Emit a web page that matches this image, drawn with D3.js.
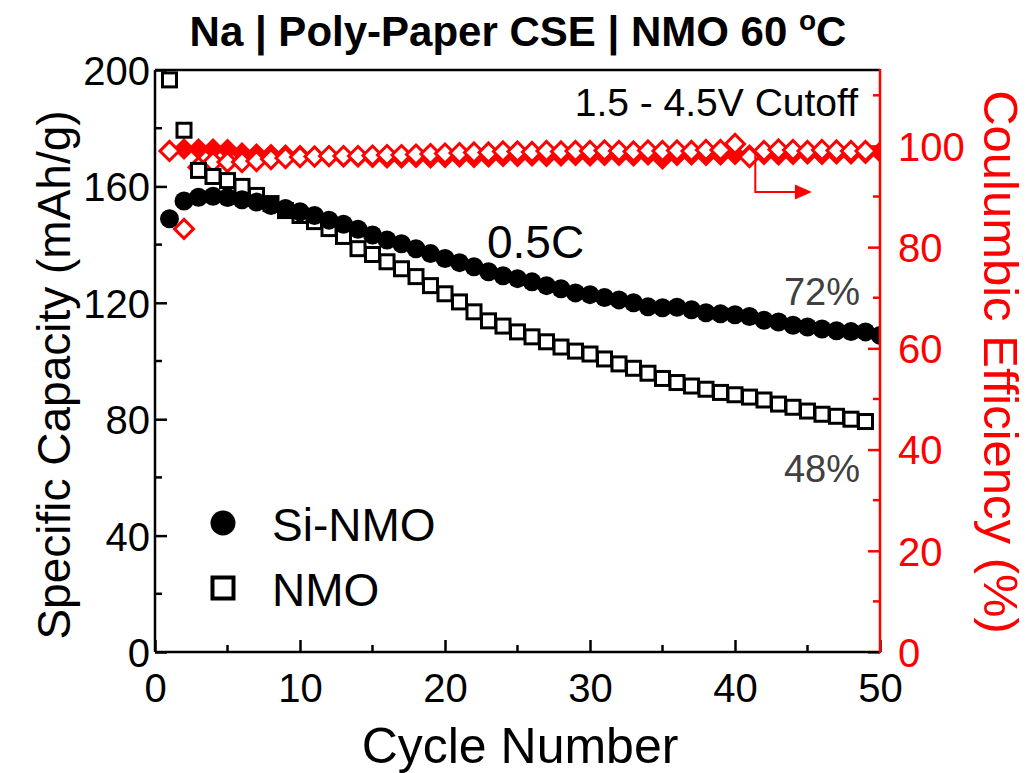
<!DOCTYPE html>
<html>
<head>
<meta charset="utf-8">
<script src="https://cdn.jsdelivr.net/npm/d3@7"></script>
<style>
  html, body { margin: 0; padding: 0; background: #fff; }
  svg { display: block; }
  text { font-family: "Liberation Sans", Arial, sans-serif; }
</style>
</head>
<body>
<svg id="chart" width="1031" height="773"></svg>
<script>
// Cycling data: Na | Poly-Paper CSE | NMO at 60 °C, 0.5C, 1.5-4.5 V
const siNmoCycles = d3.range(1, 51);
const siNmoCapacity = [
  148.9, 155.0, 156.3, 156.6, 156.2, 155.4, 154.6, 153.4, 152.4, 151.3,
  150.0, 148.4, 147.0, 145.3, 143.3, 141.6, 140.3, 138.6, 136.9, 135.2,
  133.8, 132.4, 130.7, 129.3, 128.3, 127.2, 125.9, 124.8, 123.4, 122.8,
  121.8, 121.0, 120.0, 118.6, 118.3, 118.5, 117.6, 116.6, 116.2, 115.9,
  115.3, 114.0, 113.4, 112.3, 111.7, 111.0, 110.4, 110.1, 110.0, 108.8
];
const siNmoEfficiency = [
  99.0, 99.4, 99.4, 99.4, 99.3, 98.6, 98.4, 98.3, 98.2, 98.1,
  98.0, 97.9, 97.8, 97.8, 97.7, 97.6, 97.6, 97.7, 97.6, 97.7,
  97.8, 97.7, 97.8, 97.9, 97.9, 98.0, 97.9, 98.0, 98.1, 98.0,
  98.1, 98.1, 98.0, 98.2, 97.4, 98.1, 98.2, 98.1, 98.2, 98.3,
  98.2, 98.3, 98.2, 98.3, 98.4, 98.3, 98.4, 98.4, 98.5, 98.8
];

const nmoCycles = d3.range(1, 50);
const nmoCapacity = [
  196.6, 179.3, 165.5, 163.4, 162.0, 160.0, 156.9, 154.1, 151.7, 150.0,
  147.9, 145.5, 142.8, 138.6, 136.6, 134.1, 131.7, 129.0, 125.9, 123.1,
  120.3, 116.9, 113.8, 112.0, 110.0, 108.3, 106.6, 104.8, 103.4, 102.4,
  100.7, 99.0, 97.5, 95.8, 94.0, 92.6, 91.4, 90.3, 89.2, 88.4,
  87.6, 86.6, 85.2, 84.1, 82.8, 81.7, 81.0, 80.0, 79.2
];
const nmoEfficiency = [
  99.0, 83.6, 95.8, 96.8, 96.8, 96.8, 97.0, 97.4, 97.6, 97.8,
  97.9, 98.0, 98.0, 98.0, 98.1, 98.2, 98.2, 98.3, 98.4, 98.5,
  98.6, 98.7, 98.7, 98.9, 98.9, 98.8, 99.0, 98.9, 99.0, 99.0,
  99.1, 99.0, 98.9, 99.1, 99.0, 99.1, 99.0, 99.2, 99.2, 100.4,
  97.8, 99.0, 99.3, 99.2, 99.0, 99.2, 99.1, 99.0, 99.0
];

const xTicks = [0, 10, 20, 30, 40, 50];
const capacityTicks = [0, 40, 80, 120, 160, 200];
const efficiencyTicks = [0, 20, 40, 60, 80, 100];

const RED = "#ff0000";
const svg = d3.select("#chart");
const plotLeft = 155, plotRight = 880, plotTop = 70, plotBottom = 652;

const x = d3.scaleLinear().domain([0, 50]).range([plotLeft, plotRight]);
const yCap = d3.scaleLinear().domain([0, 200]).range([plotBottom, plotTop]);
const yCE = d3.scaleLinear().domain([0, 115]).range([plotBottom, plotTop]);

const tickFont = 40;
const FONT = "Liberation Sans, Arial, sans-serif";

svg.append("defs").append("clipPath").attr("id", "plot-clip")
  .append("rect").attr("x", plotLeft).attr("y", plotTop)
  .attr("width", plotRight - plotLeft).attr("height", plotBottom - plotTop);

// Bottom axis (ticks pointing inward)
const xAxis = d3.axisBottom(x).tickValues(xTicks).tickSize(-12).tickPadding(22).tickFormat(d3.format("d"));
const gx = svg.append("g").attr("transform", `translate(0,${plotBottom})`).call(xAxis);
gx.selectAll("text").attr("font-size", tickFont).attr("fill", "#000").attr("dy", "0.71em")
  .attr("font-family", FONT);
gx.selectAll("line").attr("stroke", "#000").attr("stroke-width", 2.5);
gx.select(".domain").remove();
svg.append("g").selectAll("line").data(d3.range(5, 50, 10)).join("line")
  .attr("x1", d => x(d)).attr("x2", d => x(d))
  .attr("y1", plotBottom).attr("y2", plotBottom - 7)
  .attr("stroke", "#000").attr("stroke-width", 2.5);

// Left capacity axis
const yAxisL = d3.axisLeft(yCap).tickValues(capacityTicks).tickSize(-12).tickPadding(5);
const gyl = svg.append("g").attr("transform", `translate(${plotLeft},0)`).call(yAxisL);
gyl.selectAll("text").attr("font-size", tickFont).attr("fill", "#000").attr("dy", "0.36em")
  .attr("font-family", FONT);
gyl.selectAll("line").attr("stroke", "#000").attr("stroke-width", 2.5);
gyl.select(".domain").remove();
svg.append("g").selectAll("line").data(d3.range(20, 200, 40)).join("line")
  .attr("x1", plotLeft).attr("x2", plotLeft + 7)
  .attr("y1", d => yCap(d)).attr("y2", d => yCap(d))
  .attr("stroke", "#000").attr("stroke-width", 2.5);

// Right efficiency axis
const yAxisR = d3.axisRight(yCE).tickValues(efficiencyTicks).tickSize(-12).tickPadding(18);
const gyr = svg.append("g").attr("transform", `translate(${plotRight},0)`).call(yAxisR);
gyr.selectAll("text").attr("font-size", tickFont).attr("fill", RED).attr("dy", "0.36em")
  .attr("font-family", FONT);
gyr.selectAll("line").attr("stroke", RED).attr("stroke-width", 2.5);
gyr.select(".domain").remove();
svg.append("g").selectAll("line").data(d3.range(10, 115, 20)).join("line")
  .attr("x1", plotRight).attr("x2", plotRight - 7)
  .attr("y1", d => yCE(d)).attr("y2", d => yCE(d))
  .attr("stroke", RED).attr("stroke-width", 2.5);

const plot = svg.append("g").attr("clip-path", "url(#plot-clip)");

// Coulombic efficiency, Si-NMO (filled diamonds)
const diamond = s => `M0,${-s}L${s},0L0,${s}L${-s},0Z`;
plot.append("g").selectAll("path")
  .data(siNmoCycles.map((c, i) => [c, siNmoEfficiency[i]])).join("path")
  .attr("d", diamond(11))
  .attr("transform", d => `translate(${x(d[0])},${yCE(d[1])})`)
  .attr("fill", RED);

// Coulombic efficiency, NMO (open diamonds)
plot.append("g").selectAll("path")
  .data(nmoCycles.map((c, i) => [c, nmoEfficiency[i]])).join("path")
  .attr("d", diamond(9.5))
  .attr("transform", d => `translate(${x(d[0])},${yCE(d[1])})`)
  .attr("fill", "#fff").attr("stroke", RED).attr("stroke-width", 3);

// Capacity, NMO (open squares)
const sq = 14;
plot.append("g").selectAll("rect")
  .data(nmoCycles.map((c, i) => [c, nmoCapacity[i]])).join("rect")
  .attr("x", d => x(d[0]) - sq / 2).attr("y", d => yCap(d[1]) - sq / 2)
  .attr("width", sq).attr("height", sq)
  .attr("fill", "#fff").attr("stroke", "#000").attr("stroke-width", 3);

// Capacity, Si-NMO (filled circles)
plot.append("g").selectAll("circle")
  .data(siNmoCycles.map((c, i) => [c, siNmoCapacity[i]])).join("circle")
  .attr("cx", d => x(d[0])).attr("cy", d => yCap(d[1])).attr("r", 9.5)
  .attr("fill", "#000");

// Frame
svg.append("line").attr("x1", plotLeft).attr("x2", plotRight).attr("y1", plotTop).attr("y2", plotTop)
  .attr("stroke", "#000").attr("stroke-width", 2.5);
svg.append("line").attr("x1", plotLeft).attr("x2", plotRight).attr("y1", plotBottom).attr("y2", plotBottom)
  .attr("stroke", "#000").attr("stroke-width", 2.5);
svg.append("line").attr("x1", plotLeft).attr("x2", plotLeft).attr("y1", plotTop).attr("y2", plotBottom)
  .attr("stroke", "#000").attr("stroke-width", 2.5);
svg.append("line").attr("x1", plotRight).attr("x2", plotRight).attr("y1", plotTop - 1).attr("y2", plotBottom + 1)
  .attr("stroke", RED).attr("stroke-width", 2.5);

// Arrow pointing to the efficiency axis
const arrowX = x(41.4), arrowTop = yCE(98.6), arrowY = yCE(90.9), arrowEnd = x(45.3);
svg.append("path")
  .attr("d", `M${arrowX},${arrowTop}V${arrowY}H${arrowEnd - 16}`)
  .attr("fill", "none").attr("stroke", RED).attr("stroke-width", 2);
svg.append("path")
  .attr("d", `M${arrowEnd - 17},${arrowY - 7.5}L${arrowEnd},${arrowY}L${arrowEnd - 17},${arrowY + 7.5}Z`)
  .attr("fill", RED);

// Annotations
svg.append("text").attr("x", 858).attr("y", 116).attr("text-anchor", "end")
  .attr("font-size", 39).text("1.5 - 4.5V Cutoff");
svg.append("text").attr("x", 487).attr("y", 258).attr("font-size", 46).text("0.5C");
svg.append("text").attr("x", 860).attr("y", 305).attr("text-anchor", "end")
  .attr("font-size", 38).attr("fill", "#404040").text("72%");
svg.append("text").attr("x", 860).attr("y", 482).attr("text-anchor", "end")
  .attr("font-size", 38).attr("fill", "#404040").text("48%");

// Legend
svg.append("circle").attr("cx", 223).attr("cy", 523).attr("r", 12.5).attr("fill", "#000");
svg.append("rect").attr("x", 223 - 10.5).attr("y", 588 - 10.5).attr("width", 21).attr("height", 21)
  .attr("fill", "#fff").attr("stroke", "#000").attr("stroke-width", 4);
svg.append("text").attr("x", 272).attr("y", 541).attr("font-size", 46).text("Si-NMO");
svg.append("text").attr("x", 272).attr("y", 606).attr("font-size", 46).text("NMO");

// Axis titles
svg.append("text").attr("x", 520).attr("y", 763).attr("text-anchor", "middle")
  .attr("font-size", 50).text("Cycle Number");
svg.append("text").attr("transform", `translate(70,${375}) rotate(-90)`).attr("text-anchor", "middle")
  .attr("font-size", 46).text("Specific Capacity (mAh/g)");
svg.append("text").attr("transform", `translate(984,${362}) rotate(90)`).attr("text-anchor", "middle")
  .attr("font-size", 49).attr("fill", RED).text("Coulumbic Efficiency (%)");

// Title
const title = svg.append("text").attr("x", 518).attr("y", 46).attr("text-anchor", "middle")
  .attr("font-size", 42).attr("font-weight", "bold")
  .attr("font-family", "Liberation Sans Narrow, Liberation Sans, Arial, sans-serif");
title.append("tspan").text("Na | Poly-Paper CSE | NMO 60 ");
title.append("tspan").attr("font-size", 28).attr("dy", -16).text("o");
title.append("tspan").attr("dy", 16).text("C");
</script>
</body>
</html>
